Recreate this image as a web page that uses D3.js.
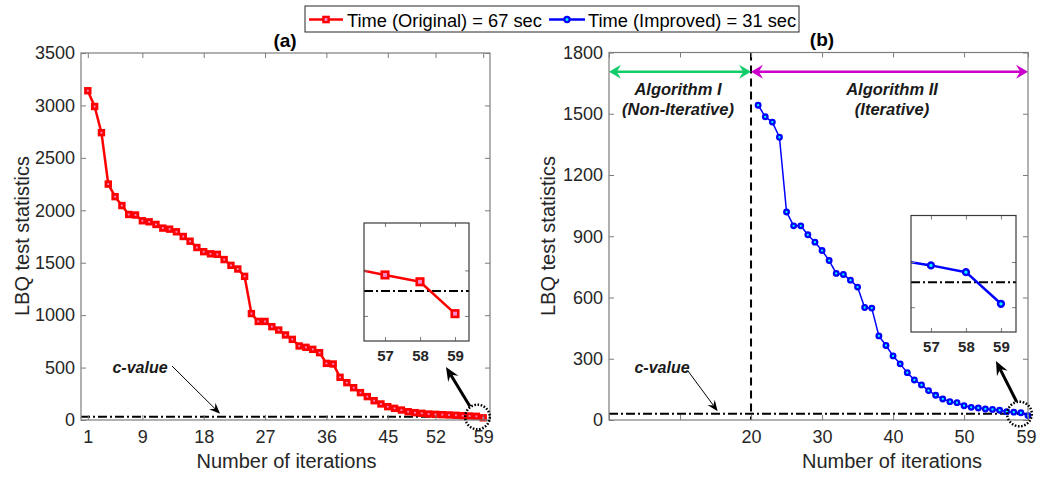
<!DOCTYPE html>
<html>
<head>
<meta charset="utf-8">
<script src="https://cdn.jsdelivr.net/npm/d3@7"></script>
<style>
  body { margin: 0; background: #fff; }
  svg { display: block; }
  text { font-family: "Liberation Sans", Arial, Helvetica, sans-serif; }
</style>
</head>
<body>
<svg id="chart" width="1037" height="477"></svg>
<script>
// ---------- data ----------
// LBQ statistic per iteration, original method (iterations 1..59)
const originalStart = 1;
const originalValues = [
  3140, 2990, 2740, 2250, 2130, 2045, 1960, 1955, 1900, 1890,
  1865, 1830, 1820, 1795, 1750, 1705, 1645, 1605, 1585, 1580,
  1530, 1475, 1440, 1370, 1015, 940, 940, 890, 858, 811,
  769, 706, 693, 674, 642, 540, 534, 407, 356, 308,
  261, 223, 184, 153, 127, 111, 95, 79, 70, 64,
  57, 54, 51, 48, 45, 41, 38, 35, 21
];
// LBQ statistic per iteration, improved method (iterative part starts at 21)
const improvedStart = 21;
const improvedValues = [
  1542, 1485, 1459, 1385, 1019, 951, 951, 907, 871, 830,
  781, 718, 713, 685, 651, 551, 548, 412, 365, 314,
  275, 232, 196, 172, 144, 121, 103, 90, 85, 70,
  62, 59, 54, 52, 48, 41, 38.5, 35.5, 21.5
];
const cValue = 31;
const splitIteration = 20;

const xTicksA = [1, 9, 18, 27, 36, 45, 52, 59];
const yTicksA = [0, 500, 1000, 1500, 2000, 2500, 3000, 3500];
const xTicksB = [0, 10, 20, 30, 40, 50, 59];
const xLabelsB = [20, 30, 40, 50, 59];
const yTicksB = [0, 300, 600, 900, 1200, 1500, 1800];
const insetXTicks = [57, 58, 59];
const insetYTicks = [20, 40];

const legendLabels = ["Time (Original) = 67 sec", "Time (Improved) = 31 sec"];
const panelTitles = ["(a)", "(b)"];
const xAxisTitle = "Number of iterations";
const yAxisTitle = "LBQ test statistics";

// ---------- styles ----------
const RED = "#ff0000", PINK = "#f58ccf";
const BLUE = "#0000ff", CYAN = "#00ffff";
const GREEN = "#12cc6a", MAGENTA = "#cc00cc";
const AXIS = "#7d7d7d", LABEL = "#262626";

const svg = d3.select("#chart");

// ---------- scales ----------
const xA = d3.scaleLinear().domain([0, 60]).range([81, 490]);
const yA = d3.scaleLinear().domain([0, 3500]).range([420, 53]);
const xB = d3.scaleLinear().domain([0, 59]).range([609, 1028]);
const yB = d3.scaleLinear().domain([0, 1800]).range([420, 52.5]);

const xInA = d3.scaleLinear().domain([56.4, 59.4]).range([364, 469]);
const yInA = d3.scaleLinear().domain([9, 60.8]).range([341, 223]);
const xInB = d3.scaleLinear().domain([56.43, 59.43]).range([911, 1016]);
const yInB = d3.scaleLinear().domain([9, 60.6]).range([332, 215.5]);

// ---------- helpers ----------
function styleAxis(g, fontSize, bold) {
  g.select(".domain").remove();
  g.selectAll(".tick line").attr("stroke", AXIS).attr("stroke-width", 1);
  g.selectAll(".tick text")
    .attr("fill", LABEL)
    .style("font-size", fontSize + "px")
    .style("font-weight", bold ? "bold" : "normal");
}

function drawAxes(x, y, xTicks, yTicks, xFmt, boxColor, tickLen, fontSize, bold, showY) {
  const [x0, x1] = x.range(), [y0, y1] = y.range();
  const g = svg.append("g");
  const bottom = g.append("g").attr("transform", `translate(0,${y0})`)
    .call(d3.axisBottom(x).tickValues(xTicks).tickSize(-tickLen).tickSizeOuter(0)
      .tickPadding(bold ? 9 : 10).tickFormat(xFmt))
    .call(s => styleAxis(s, fontSize, bold));
  // keep a label sitting on the right border inside the canvas
  bottom.selectAll(".tick text").filter(function () {
    const t = this.parentNode.getAttribute("transform");
    const tx = +t.match(/translate\(([-\d.]+)/)[1];
    return tx + 12 > 1037;
  }).attr("x", -2);
  g.append("g").attr("transform", `translate(0,${y1})`)
    .call(d3.axisTop(x).tickValues(xTicks).tickSize(-tickLen).tickSizeOuter(0).tickFormat(""))
    .call(s => styleAxis(s, fontSize, bold));
  g.append("g").attr("transform", `translate(${x0},0)`)
    .call(d3.axisLeft(y).tickValues(yTicks).tickSize(-tickLen).tickSizeOuter(0)
      .tickPadding(6).tickFormat(showY ? d3.format("d") : ""))
    .call(s => styleAxis(s, fontSize, bold));
  g.append("g").attr("transform", `translate(${x1},0)`)
    .call(d3.axisRight(y).tickValues(yTicks).tickSize(-tickLen).tickSizeOuter(0).tickFormat(""))
    .call(s => styleAxis(s, fontSize, bold));
  g.append("rect")
    .attr("x", x0).attr("y", y1).attr("width", x1 - x0).attr("height", y0 - y1)
    .attr("fill", "none").attr("stroke", boxColor).attr("stroke-width", 1.2);
  return g;
}

function cLine(g, x, y) {
  const [d0, d1] = x.domain();
  g.append("path")
    .attr("d", d3.line().x(d => x(d)).y(() => y(cValue))([d0, d1]))
    .attr("fill", "none").attr("stroke", "#000").attr("stroke-width", 2)
    .attr("stroke-dasharray", "9,3,2,3");
}

function series(g, x, y, start, values, color, lw, marker, size, sw, fill) {
  const pts = values.map((v, i) => [start + i, v]);
  g.append("path")
    .attr("d", d3.line().x(d => x(d[0])).y(d => y(d[1]))(pts))
    .attr("fill", "none").attr("stroke", color).attr("stroke-width", lw)
    .attr("stroke-linejoin", "round");
  const m = g.append("g").selectAll("g").data(pts).join("g")
    .attr("transform", d => `translate(${x(d[0])},${y(d[1])})`);
  if (marker === "square") {
    m.append("rect").attr("x", -size / 2).attr("y", -size / 2)
      .attr("width", size).attr("height", size)
      .attr("fill", fill).attr("stroke", color).attr("stroke-width", sw);
  } else {
    m.append("circle").attr("r", size)
      .attr("fill", fill).attr("stroke", color).attr("stroke-width", sw);
  }
}

// filled arrowhead with notched back, tip at (x2,y2)
function arrowHead(g, x1, y1, x2, y2, len, wid, color) {
  const a = Math.atan2(y2 - y1, x2 - x1);
  const c = Math.cos(a), s = Math.sin(a);
  const P = ([u, v]) => [x2 + u * c - v * s, y2 + u * s + v * c];
  const pts = [[0, 0], [-len, wid / 2], [-len * 0.65, 0], [-len, -wid / 2]].map(P);
  g.append("path").attr("d", "M" + pts.join("L") + "Z").attr("fill", color);
  return P([-len * 0.65, 0]);
}

function arrow(g, x1, y1, x2, y2, lw, len, wid, color, both) {
  let [sx, sy] = [x1, y1];
  const [ex, ey] = arrowHead(g, x1, y1, x2, y2, len, wid, color);
  if (both) [sx, sy] = arrowHead(g, x2, y2, x1, y1, len, wid, color);
  g.append("line").attr("x1", sx).attr("y1", sy).attr("x2", ex).attr("y2", ey)
    .attr("stroke", color).attr("stroke-width", lw);
}

function inset(x, y, start, values, color, lw, marker, size, sw, fill, id) {
  const [x0, x1] = x.range(), [y0, y1] = y.range();
  svg.append("rect").attr("x", x0).attr("y", y1).attr("width", x1 - x0)
    .attr("height", y0 - y1).attr("fill", "#fff");
  svg.append("clipPath").attr("id", id).append("rect")
    .attr("x", x0).attr("y", y1).attr("width", x1 - x0).attr("height", y0 - y1);
  const g = svg.append("g").attr("clip-path", `url(#${id})`);
  cLine(g, x, y);
  series(g, x, y, start, values, color, lw, marker, size, sw, fill);
  drawAxes(x, y, insetXTicks, insetYTicks, d3.format("d"), "#3a3a3a", 4, 15, true, false);
}

function dottedCircle(cx, cy, r) {
  svg.append("circle").attr("cx", cx).attr("cy", cy).attr("r", r)
    .attr("fill", "none").attr("stroke", "#000").attr("stroke-width", 2.5)
    .attr("stroke-dasharray", "1.6,1.6");
}

// ---------- panel (a) ----------
const gA = svg.append("g");
drawAxes(xA, yA, xTicksA, yTicksA, d3.format("d"), AXIS, 5, 18, false, true);
cLine(gA, xA, yA);
series(gA, xA, yA, originalStart, originalValues, RED, 2.5, "square", 4.6, 2.8, PINK);

// ---------- panel (b) ----------
const gB = svg.append("g");
drawAxes(xB, yB, xTicksB, yTicksB, d => xLabelsB.includes(d) ? d : "", AXIS, 5, 18, false, true);
cLine(gB, xB, yB);
gB.append("line")
  .attr("x1", xB(splitIteration)).attr("x2", xB(splitIteration))
  .attr("y1", yB.range()[1]).attr("y2", yB.range()[0])
  .attr("stroke", "#000").attr("stroke-width", 2).attr("stroke-dasharray", "8,5");
series(gB, xB, yB, improvedStart, improvedValues, BLUE, 1.5, "circle", 2.3, 2.3, CYAN);

// algorithm regions
const arrowY = 71.7;
arrow(gB, xB.range()[0], arrowY, xB(splitIteration), arrowY, 2.5, 12, 14, GREEN, true);
arrow(gB, xB(splitIteration), arrowY, xB.range()[1], arrowY, 2.5, 12, 14, MAGENTA, true);
const algText = [
  { x: 678, lines: ["Algorithm I", "(Non-Iterative)"] },
  { x: 892, lines: ["Algorithm II", "(Iterative)"] }
];
algText.forEach(t => t.lines.forEach((s, i) => {
  gB.append("text").attr("x", t.x).attr("y", 95 + i * 20)
    .attr("text-anchor", "middle").attr("fill", "#1a1a1a")
    .style("font-size", "16.5px").style("font-weight", "bold").style("font-style", "italic")
    .text(s);
}));

// ---------- annotations ----------
[[140, 172, 366, xA(20.4), yA(cValue) - 3], [662, 688, 371, xB(15.3), yB(cValue) - 2.5]]
  .forEach(([tx, ax, ay, bx, by]) => {
    svg.append("text").attr("x", tx).attr("y", 373).attr("text-anchor", "middle")
      .attr("fill", "#1a1a1a").style("font-size", "16px")
      .style("font-weight", "bold").style("font-style", "italic").text("c-value");
    arrow(svg, ax, ay, bx, by, 1, 11, 9, "#000", false);
  });

dottedCircle(477.5, 417, 12.3);
dottedCircle(1019.5, 414, 12.3);
arrow(svg, 470, 406.5, 446, 367, 3, 14, 12, "#000", false);
arrow(svg, 1016.5, 401.5, 996, 361, 3, 14, 12, "#000", false);

// ---------- insets ----------
inset(xInA, yInA, originalStart, originalValues, RED, 2.5, "square", 6.5, 2.6, PINK, "clipA");
inset(xInB, yInB, improvedStart, improvedValues, BLUE, 2.5, "circle", 2.9, 2.5, CYAN, "clipB");

// ---------- titles and axis labels ----------
[[285, 47, panelTitles[0]], [822, 46, panelTitles[1]]].forEach(([x, y, s]) => {
  svg.append("text").attr("x", x).attr("y", y).attr("text-anchor", "middle")
    .attr("fill", "#000").style("font-size", "19px").style("font-weight", "bold").text(s);
});
[[286.5], [892]].forEach(([x]) => {
  svg.append("text").attr("x", x).attr("y", 468).attr("text-anchor", "middle")
    .attr("fill", LABEL).style("font-size", "20px").text(xAxisTitle);
});
[[29], [555]].forEach(([x]) => {
  svg.append("text").attr("transform", `translate(${x},236) rotate(-90)`)
    .attr("text-anchor", "middle").attr("fill", LABEL)
    .style("font-size", "20px").text(yAxisTitle);
});

// ---------- legend ----------
const lg = svg.append("g");
lg.append("rect").attr("x", 305).attr("y", 6).attr("width", 494).attr("height", 26)
  .attr("fill", "#fff").attr("stroke", "#262626").attr("stroke-width", 1);
const legendItems = [
  { x0: 309, x1: 343, tx: 347, color: RED, marker: "square", fill: PINK },
  { x0: 549, x1: 585, tx: 588, color: BLUE, marker: "circle", fill: CYAN }
];
legendItems.forEach((it, i) => {
  const cy = 19.5, cx = (it.x0 + it.x1) / 2;
  lg.append("line").attr("x1", it.x0).attr("x2", it.x1).attr("y1", cy).attr("y2", cy)
    .attr("stroke", it.color).attr("stroke-width", 2.5);
  if (it.marker === "square") {
    lg.append("rect").attr("x", cx - 2.6).attr("y", cy - 2.6).attr("width", 5.2).attr("height", 5.2)
      .attr("fill", it.fill).attr("stroke", it.color).attr("stroke-width", 2.4);
  } else {
    lg.append("circle").attr("cx", cx).attr("cy", cy).attr("r", 2.6)
      .attr("fill", it.fill).attr("stroke", it.color).attr("stroke-width", 2.2);
  }
  lg.append("text").attr("x", it.tx).attr("y", 26.5).attr("fill", "#000")
    .style("font-size", "18.3px").text(legendLabels[i]);
});
</script>
</body>
</html>
